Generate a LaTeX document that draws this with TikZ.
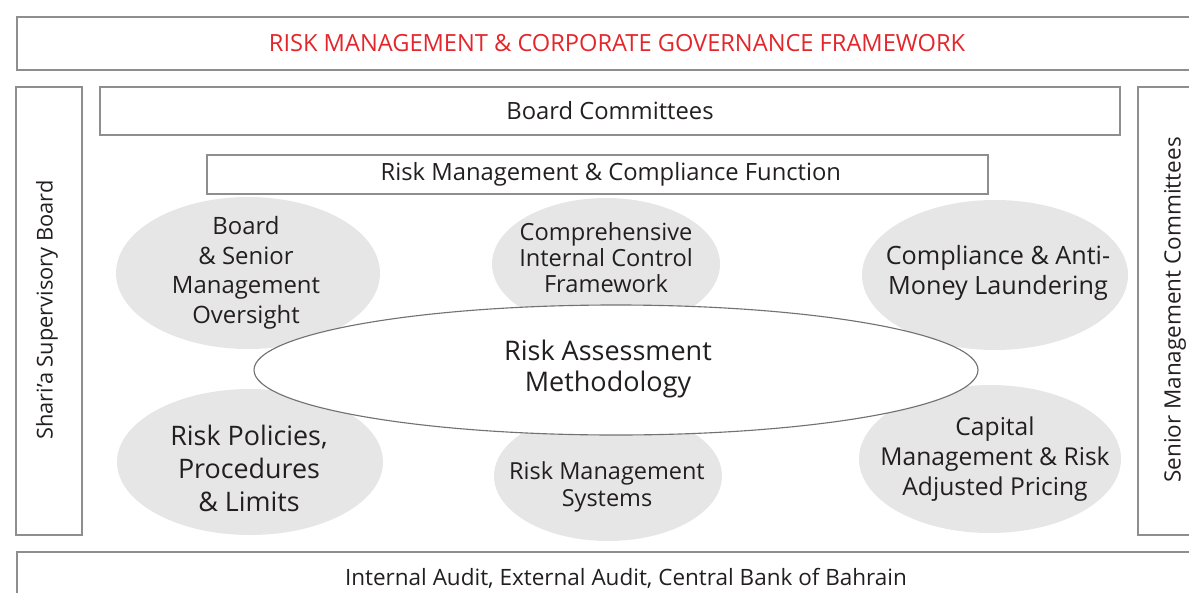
\documentclass[tikz,border=0pt]{standalone}
\usepackage{fontspec}
\setmainfont{Open Sans}
\usetikzlibrary{shapes.geometric}
\definecolor{titlered}{HTML}{E3262B}
\definecolor{linegrey}{HTML}{8E8E8E}
\definecolor{bubblegrey}{HTML}{E6E6E6}
\definecolor{inkgrey}{HTML}{231F20}
\tikzset{
    framebox/.style={draw=linegrey, line width=1.3pt, text=inkgrey, inner sep=0pt},
    bubble/.style={ellipse, draw=none, fill=bubblegrey, inner sep=0pt},
    bubbletext/.style={text=inkgrey, align=center, inner sep=0pt},
}
\begin{document}
\begin{tikzpicture}[x=0.025cm, y=-0.025cm]
    \def\px{0.025cm}
    \useasboundingbox (0,0) rectangle (1189,592);
    % outer frame boxes
    \node [framebox, minimum width=1200*\px, minimum height=53*\px, text=titlered,
        font=\fontsize{16.8}{19}\selectfont] (title) at (617,43.5)
        {RISK MANAGEMENT \& CORPORATE GOVERNANCE FRAMEWORK};
    \node [framebox, minimum width=66*\px, minimum height=448*\px] (shariabox) at (49,311) {};
    \node [rotate=90, text=inkgrey, font=\fontsize{15.5}{18}\selectfont] (sharia) at (47,310)
        {Shari’a Supervisory Board};
    \node [framebox, minimum width=74*\px, minimum height=448*\px] (seniorbox) at (1175,311) {};
    \node [rotate=90, text=inkgrey, font=\fontsize{16}{18}\selectfont] (senior) at (1175,310)
        {Senior Management Committees};
    \node [framebox, minimum width=1218*\px, minimum height=60*\px,
        font=\fontsize{16}{18}\selectfont] (audit) at (626,582)
        {\raisebox{7pt}{Internal Audit, External Audit, Central Bank of Bahrain}};
    % inner boxes
    \node [framebox, line width=1pt, minimum width=1020*\px, minimum height=48*\px,
        font=\fontsize{16.9}{19}\selectfont] (board) at (610,111) {Board Committees};
    \node [framebox, line width=1pt, minimum width=781*\px, minimum height=39*\px,
        font=\fontsize{16.9}{19}\selectfont] (rmcf) at (597.5,174.5)
        {\hspace*{19pt}Risk Management \& Compliance Function};
    % grey bubbles
    \node [bubble, minimum width=264*\px, minimum height=152*\px] (oversight) at (248,273) {};
    \node [bubble, minimum width=228*\px, minimum height=132*\px] (control) at (606,264) {};
    \node [bubble, minimum width=266*\px, minimum height=150*\px] (aml) at (995,275) {};
    \node [bubble, minimum width=266*\px, minimum height=146*\px] (policies) at (250,462) {};
    \node [bubble, minimum width=228*\px, minimum height=130*\px] (systems) at (608,476) {};
    \node [bubble, minimum width=262*\px, minimum height=148*\px] (capital) at (990,459) {};
    \node [bubbletext, font=\fontsize{17}{21}\selectfont] (oversight-t) at (246,273)
        {Board\\\& Senior\\Management\\Oversight};
    \node [bubbletext, font=\fontsize{16.8}{18.4}\selectfont] (control-t) at (606,258)
        {Comprehensive\\Internal Control\\Framework};
    \node [bubbletext, font=\fontsize{17.9}{21}\selectfont] (aml-t) at (998,273)
        {Compliance \& Anti-\\Money Laundering};
    \node [bubbletext, font=\fontsize{19.1}{23.5}\selectfont] (policies-t) at (249,468)
        {Risk Policies,\\Procedures\\\& Limits};
    \node [bubbletext, font=\fontsize{16.7}{19}\selectfont] (systems-t) at (607,487)
        {Risk Management\\Systems};
    \node [bubbletext, font=\fontsize{17.5}{21.5}\selectfont] (capital-t) at (995,459)
        {Capital\\Management \& Risk\\Adjusted Pricing};
    % centre ellipse on top
    \node [ellipse, draw=linegrey!80!black, line width=0.8pt, fill=white,
        inner sep=0pt, minimum width=724*\px, minimum height=130*\px] (assessment) at (616,370) {};
    \node [bubbletext, font=\fontsize{19.2}{22.5}\selectfont] (assessment-t) at (608,369)
        {Risk Assessment\\Methodology};
\end{tikzpicture}
\end{document}
